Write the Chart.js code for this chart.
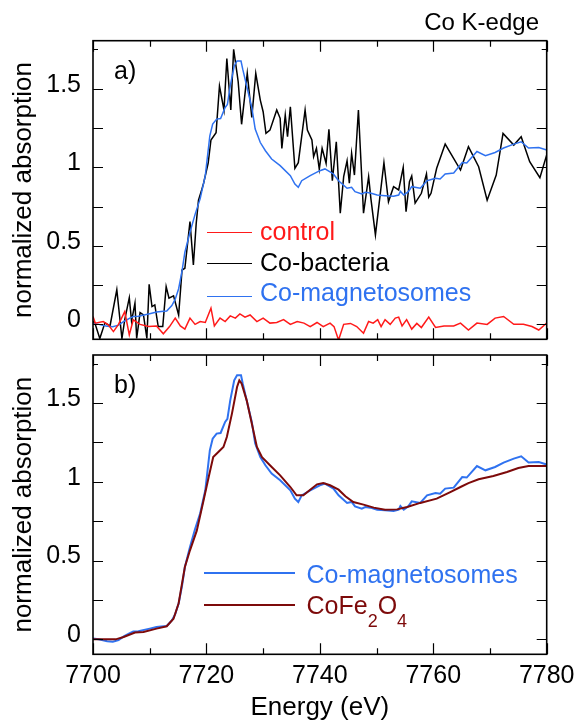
<!DOCTYPE html>
<html><head><meta charset="utf-8">
<script src="https://cdn.jsdelivr.net/npm/chart.js@4.4.1/dist/chart.umd.min.js"></script>
<style>
html,body{margin:0;padding:0;background:#fff;}
#wrap{position:relative;width:577px;height:720px;overflow:hidden;background:#fff;font-family:"Liberation Sans",Arial,sans-serif;}
canvas{position:absolute;left:0;}
.t{position:absolute;line-height:1;white-space:nowrap;}
.ln{position:absolute;height:0;}
</style></head><body>
<div id="wrap">
<canvas id="c1" width="577" height="350" style="top:0px"></canvas>
<canvas id="c2" width="577" height="373" style="top:347px"></canvas>
</div>
<script>
// ---------------- data ----------------
const xTicks = [7700, 7710, 7720, 7730, 7740, 7750, 7760, 7770, 7780];
const xLabels = ['7700', '', '7720', '', '7740', '', '7760', '', '7780'];
const yTicks = [0, 0.25, 0.5, 0.75, 1, 1.25, 1.5, 1.75];
const yLabels = ['0', '', '0.5', '', '1', '', '1.5', ''];

const seriesNames = ['control', 'Co-bacteria', 'Co-magnetosomes', 'CoFe2O4'];

const controlE = [7700.0,7700.4,7701.8,7702.7,7703.6,7704.5,7705.6,7706.4,7707.1,7708.3,7709.8,7711.2,7712.4,7713.5,7714.5,7715.4,7716.2,7717.1,7718.0,7718.9,7719.8,7720.8,7721.4,7722.4,7723.3,7724.2,7725.1,7725.9,7726.8,7727.7,7728.9,7730.0,7731.2,7732.4,7733.6,7734.8,7736.0,7737.2,7738.3,7739.5,7740.6,7741.8,7742.5,7743.3,7744.2,7745.4,7746.5,7747.7,7748.6,7749.4,7750.2,7750.8,7751.5,7752.4,7753.3,7753.9,7754.5,7755.3,7756.2,7757.1,7757.9,7759.2,7760.4,7761.9,7763.6,7764.8,7766.2,7767.7,7769.5,7770.9,7772.4,7774.2,7775.9,7777.4,7778.6,7780.0];
const controlY = [0.05,0.008,0.018,-0.003,-0.046,0.0,0.081,-0.067,0.029,0.0,-0.014,-0.01,-0.06,-0.014,0.04,-0.01,-0.03,0.04,0.0,0.018,0.012,0.103,-0.01,0.04,0.018,0.054,0.04,0.067,0.046,0.06,0.018,0.04,0.008,0.012,0.03,0.0,0.018,0.008,-0.014,0.012,-0.014,0.008,-0.014,-0.1,0.0,0.006,-0.014,-0.056,0.018,0.008,0.03,-0.014,0.03,0.0,0.04,0.046,-0.01,0.03,-0.03,0.006,-0.02,0.046,-0.02,-0.01,-0.01,0.008,-0.036,0.008,0.0,0.04,0.05,0.0,0.0,-0.014,-0.036,0.008];

const bacteriaE = [7700.0,7700.4,7701.2,7702.1,7703.0,7704.2,7705.1,7705.6,7706.4,7706.8,7707.4,7707.7,7708.3,7708.9,7709.5,7709.9,7710.4,7710.9,7711.5,7712.3,7712.9,7713.4,7714.2,7715.1,7715.7,7716.2,7717.1,7717.7,7718.2,7718.6,7719.2,7719.5,7720.3,7720.8,7721.7,7722.3,7723.1,7723.6,7724.3,7724.8,7725.4,7725.6,7726.2,7727.2,7728.0,7728.7,7729.5,7730.0,7730.5,7731.2,7732.4,7733.0,7733.3,7733.9,7734.3,7734.8,7735.6,7736.2,7737.4,7737.8,7738.6,7738.9,7739.4,7739.9,7740.4,7741.1,7741.6,7742.2,7742.9,7743.6,7744.2,7744.8,7745.2,7745.6,7746.1,7746.8,7747.7,7748.6,7749.0,7749.8,7751.3,7752.1,7753.0,7753.9,7754.7,7755.2,7755.8,7756.2,7756.8,7757.9,7758.8,7759.2,7759.6,7760.6,7762.1,7764.8,7766.2,7768.0,7769.5,7771.1,7772.3,7774.2,7775.5,7777.0,7778.8,7780.0];
const bacteriaY = [0.02,0.0,-0.09,0.01,-0.01,0.22,-0.09,0.03,0.17,0.02,0.135,-0.09,0.075,0.06,-0.09,0.255,0.113,0.124,-0.014,-0.014,0.24,0.167,0.181,0.06,0.346,0.357,0.654,0.378,0.643,0.79,0.86,0.898,1.025,1.173,1.219,1.516,1.364,1.692,1.364,1.75,1.597,1.544,1.273,1.597,1.317,1.597,1.427,1.353,1.215,1.236,1.364,1.311,1.12,1.332,1.194,1.385,0.993,1.029,1.364,1.236,1.173,1.067,1.12,0.987,1.12,1.025,1.241,0.914,1.162,0.707,0.94,1.041,0.898,1.088,0.95,1.364,0.707,0.94,0.8,0.569,1.029,0.78,0.876,0.855,0.999,0.717,0.908,0.944,0.772,0.834,0.957,0.81,0.834,0.993,1.147,0.982,1.13,1.003,0.79,0.95,1.215,1.141,1.194,1.035,0.933,1.078];

const magnetoE = [7700.0,7701.0,7702.5,7703.5,7704.5,7705.5,7706.5,7707.1,7708.0,7709.0,7710.0,7711.2,7712.0,7713.0,7713.9,7714.5,7715.1,7715.7,7716.2,7717.1,7718.0,7718.9,7719.8,7720.6,7721.1,7721.8,7722.5,7723.3,7723.7,7724.2,7724.9,7725.4,7726.1,7726.4,7727.1,7728.0,7728.6,7729.5,7730.4,7731.5,7733.0,7734.8,7735.6,7736.2,7736.8,7738.3,7740.0,7740.9,7741.8,7742.4,7743.3,7744.8,7745.6,7746.2,7747.4,7748.0,7748.9,7750.1,7751.5,7753.0,7753.9,7754.2,7754.8,7755.6,7756.2,7757.7,7758.9,7760.4,7761.2,7762.1,7763.6,7765.1,7765.9,7767.7,7769.2,7770.9,7772.4,7774.2,7775.5,7776.8,7778.6,7780.0];
const magnetoY = [0.005,0.0,-0.012,-0.015,-0.005,0.02,0.04,0.05,0.052,0.06,0.068,0.078,0.082,0.085,0.12,0.16,0.227,0.34,0.459,0.586,0.70,0.80,0.946,1.2,1.274,1.306,1.31,1.38,1.40,1.517,1.644,1.676,1.676,1.624,1.517,1.38,1.243,1.157,1.105,1.052,1.01,0.946,0.893,0.872,0.914,0.946,0.978,0.989,0.97,0.957,0.914,0.866,0.872,0.844,0.83,0.84,0.836,0.823,0.819,0.815,0.823,0.846,0.823,0.844,0.876,0.866,0.914,0.929,0.925,0.957,0.963,1.03,1.027,1.10,1.073,1.094,1.122,1.147,1.162,1.122,1.126,1.11];

const ferriteE = [7700.0,7704.0,7705.4,7707.4,7708.9,7711.2,7713.0,7714.2,7715.1,7716.2,7717.1,7718.3,7719.5,7720.4,7721.2,7722.1,7723.0,7723.6,7724.5,7725.4,7725.8,7726.2,7727.1,7728.0,7728.9,7729.8,7731.2,7733.0,7734.8,7735.9,7737.1,7738.3,7739.5,7740.6,7741.8,7743.3,7744.5,7745.9,7747.7,7749.5,7751.5,7753.6,7755.4,7757.7,7760.6,7763.0,7764.8,7766.2,7768.0,7770.6,7773.0,7775.0,7776.8,7780.0];
const ferriteY = [0.0,0.0,0.015,0.043,0.046,0.068,0.083,0.131,0.229,0.459,0.565,0.69,0.883,1.03,1.157,1.189,1.221,1.284,1.433,1.602,1.644,1.624,1.517,1.37,1.221,1.157,1.105,1.041,0.967,0.914,0.914,0.95,0.984,0.992,0.978,0.95,0.908,0.872,0.855,0.836,0.823,0.825,0.84,0.866,0.893,0.935,0.967,0.992,1.016,1.037,1.062,1.088,1.10,1.10];

// ---------------- styling ----------------
const FONT = '"Liberation Sans", Arial, sans-serif';
const C_RED = '#ff1a1a', C_BLACK = '#000000', C_BLUE = '#2f72f0', C_MAROON = '#7d0a0a';
const pts = (E, Y) => E.map((e, i) => ({x: e, y: Y[i]}));

const frameTicks = {
  id: 'frameTicks',
  afterDatasetsDraw(chart) {
    const {ctx, chartArea: a, scales: {x, y}} = chart;
    ctx.save();
    ctx.strokeStyle = '#000';
    ctx.lineWidth = 1.2;
    ctx.beginPath();
    x.ticks.forEach(t => {
      const px = Math.round(x.getPixelForValue(t.value)) + 0.5;
      const len = (Math.round(t.value) % 20 === 0) ? 11 : 6;
      ctx.moveTo(px, a.top); ctx.lineTo(px, a.top + len);
      ctx.moveTo(px, a.bottom); ctx.lineTo(px, a.bottom - len);
    });
    y.ticks.forEach(t => {
      const py = Math.round(y.getPixelForValue(t.value)) + 0.5;
      const len = t.value > 1.6 ? 5 : 10;
      ctx.moveTo(a.left, py); ctx.lineTo(a.left + len, py);
      ctx.moveTo(a.right, py); ctx.lineTo(a.right - len, py);
    });
    ctx.stroke();
    ctx.lineWidth = 1.6;
    ctx.strokeRect(a.left, a.top, a.right - a.left, a.bottom - a.top);
    ctx.restore();
  }
};

function xScale(showLabels, height) {
  return {
    type: 'linear', min: 7700, max: 7780,
    afterBuildTicks: s => { s.ticks = xTicks.map(v => ({value: v})); },
    afterFit: s => { s.height = height; s.paddingLeft = 0; s.paddingRight = 0; s.paddingTop = 0; s.paddingBottom = 0; },
    grid: {display: false, drawTicks: false},
    border: {display: false},
    ticks: {
      display: showLabels, autoSkip: false, maxRotation: 0, padding: 7, color: '#000',
      font: {family: FONT, size: 25},
      callback: (v) => { const i = xTicks.indexOf(v); return i >= 0 ? xLabels[i] : ''; }
    },
    title: {display: showLabels, text: 'Energy (eV)', color: '#000', font: {family: FONT, size: 26}, padding: {top: 0, bottom: -3}}
  };
}
function yScale() {
  return {
    type: 'linear', min: -0.095, max: 1.805,
    afterBuildTicks: s => { s.ticks = yTicks.map(v => ({value: v})); },
    afterFit: s => { s.width = 93; s.paddingLeft = 0; s.paddingRight = 0; s.paddingTop = 0; s.paddingBottom = 0; },
    grid: {display: false, drawTicks: false},
    border: {display: false},
    ticks: {
      autoSkip: false, padding: 12, color: '#000', labelOffset: -4,
      font: {family: FONT, size: 25},
      callback: (v) => { const i = yTicks.indexOf(v); return i >= 0 ? yLabels[i] : ''; }
    },
    title: {display: true, text: 'normalized absorption', color: '#000', font: {family: FONT, size: 26}, padding: {top: 8.5, bottom: 0}}
  };
}
const common = {
  responsive: false, animation: false, devicePixelRatio: 1,
  plugins: {legend: {display: false}, tooltip: {enabled: false}},
  elements: {point: {radius: 0}, line: {tension: 0}}
};

new Chart(document.getElementById('c1'), {
  type: 'line',
  data: {datasets: [
    {label: seriesNames[0], data: pts(controlE, controlY), borderColor: C_RED, borderWidth: 1.5},
    {label: seriesNames[2], data: pts(magnetoE, magnetoY), borderColor: C_BLUE, borderWidth: 1.5},
    {label: seriesNames[1], data: pts(bacteriaE, bacteriaY), borderColor: C_BLACK, borderWidth: 1.5}
  ]},
  options: Object.assign({}, common, {
    layout: {padding: {top: 40.7, right: 30.3, bottom: 10.7, left: 0}},
    scales: {x: xScale(false, 0), y: yScale()}
  }),
  plugins: [frameTicks]
});

new Chart(document.getElementById('c2'), {
  type: 'line',
  data: {datasets: [
    {label: seriesNames[3], data: pts(ferriteE, ferriteY), borderColor: C_MAROON, borderWidth: 2},
    {label: seriesNames[2], data: pts(magnetoE, magnetoY), borderColor: C_BLUE, borderWidth: 2}
  ]},
  options: Object.assign({}, common, {
    layout: {padding: {top: 8, right: 30.3, bottom: 0, left: 0}},
    scales: {x: xScale(true, 65.7), y: yScale()}
  }),
  plugins: [frameTicks]
});

// ---------------- text overlays (title, panel labels, legends) ----------------
const wrap = document.getElementById('wrap');
function addText(html, opts) {
  const d = document.createElement('div');
  d.className = 't';
  d.innerHTML = html;
  d.style.fontSize = opts.size + 'px';
  d.style.color = opts.color || '#000';
  d.style.top = (opts.baseline - 0.8465 * opts.size) + 'px';
  if (opts.right !== undefined) d.style.right = (577 - opts.right) + 'px';
  else d.style.left = opts.left + 'px';
  wrap.appendChild(d);
}
function addLine(x1, x2, y, color, w) {
  const d = document.createElement('div');
  d.className = 'ln';
  d.style.left = x1 + 'px';
  d.style.width = (x2 - x1) + 'px';
  d.style.top = (y - w / 2) + 'px';
  d.style.borderTop = w + 'px solid ' + color;
  wrap.appendChild(d);
}
addText('Co K-edge', {size: 24, baseline: 30, right: 539});
addText('a)', {size: 25, baseline: 79, left: 114});
addText('b)', {size: 25, baseline: 393.3, left: 114});

// top legend
addLine(207, 252, 232.7, C_RED, 1.5);
addText(seriesNames[0], {size: 25, baseline: 240.5, left: 260, color: C_RED});
addLine(207, 252, 264, C_BLACK, 1.5);
addText(seriesNames[1], {size: 25, baseline: 271.5, left: 260, color: C_BLACK});
addLine(207, 252, 296.7, C_BLUE, 1.5);
addText(seriesNames[2], {size: 25, baseline: 301, left: 260, color: C_BLUE});

// bottom legend
addLine(204, 295, 572.7, C_BLUE, 2);
addText(seriesNames[2], {size: 25, baseline: 583.3, left: 306.5, color: C_BLUE});
addLine(204, 295, 605, C_MAROON, 2);
addText('CoFe<span style="font-size:18px;vertical-align:-13px">2</span>O<span style="font-size:18px;vertical-align:-13px">4</span>', {size: 25, baseline: 614.3, left: 306.5, color: C_MAROON});
</script>
</body></html>
